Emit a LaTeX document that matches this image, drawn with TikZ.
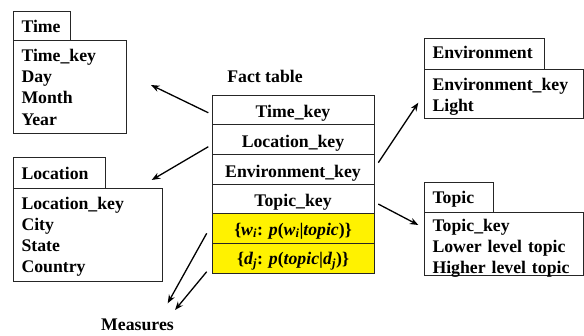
\documentclass[tikz,border=0pt]{standalone}
\usepackage{fontspec}
\setmainfont{Liberation Serif}
\usetikzlibrary{arrows.meta,positioning}

% stacked attribute lines, lowered by #1 without changing the box size
\newcommand\boxlines[2]{\raisebox{-#1}[\height][\depth]{%
  \begin{tabular}{@{}l@{}}#2\end{tabular}}}

\begin{document}
\begin{tikzpicture}[x=1bp,y=-1bp,
  font=\fontsize{17.8}{21.2}\selectfont\bfseries,
  box/.style={draw=black!85, line width=1bp, anchor=north west,
    inner xsep=8.5bp, inner ysep=0pt, align=left, outer sep=0pt},
  title/.style={box, text height=13bp, text depth=0bp},
  frow/.style={draw=black!85, line width=1bp, minimum width=162bp,
    minimum height=29.67bp, inner sep=0pt, outer sep=0pt, anchor=north,
    text height=20bp, text depth=4bp},
  measure/.style={frow, fill=yellow, text height=17.5bp},
  arr/.style={line width=1.3bp, -{Stealth[length=8.5bp,width=6.5bp]}}
]
\useasboundingbox (0,0) rectangle (584,335);

% Time dimension
\node[title, text width=40bp, minimum height=29bp] (timetitle) at (13,11) {Time};
\node[box, text width=96bp, minimum height=93bp] (timebody) at (13,40)
  {\boxlines{2.6bp}{Time\_key\\Day\\Month\\Year}};

% Location dimension
\node[title, text width=75bp, minimum height=31bp] (loctitle) at (13,157) {Location};
\node[box, text width=132bp, minimum height=93bp] (locbody) at (13,188)
  {\boxlines{2.1bp}{Location\_key\\City\\State\\Country}};

% Environment dimension
\node[title, text depth=3bp, text width=103bp, minimum height=31bp] (envtitle) at (424,38) {Environment};
\node[box, text width=142bp, minimum height=49bp] (envbody) at (424,69)
  {\boxlines{3.1bp}{Environment\_key\\Light}};

% Topic dimension
\node[title, text width=52bp, minimum height=30bp] (toptitle) at (424,182) {Topic};
\node[box, text width=142bp, minimum height=62bp] (topbody) at (424,212)
  {\boxlines{4.5bp}{Topic\_key\\Lower level topic\\Higher level topic}};

% Fact table
\node (factlabel) at (265,76) {Fact table};
\node[frow] (ft1) at (293,95) {Time\_key};
\node[frow, below=0pt of ft1] (ft2) {Location\_key};
\node[frow, below=0pt of ft2] (ft3) {Environment\_key};
\node[frow, below=0pt of ft3] (ft4) {Topic\_key};
\node[measure, below=0pt of ft4] (ft5)
  {\{\textit{w}\textsubscript{\textit{i}}: \textit{p}(\textit{w}\textsubscript{\textit{i}}|\textit{topic})\}};
\node[measure, below=0pt of ft5] (ft6)
  {\{\textit{d}\textsubscript{\textit{j}}: \textit{p}(\textit{topic}|\textit{d}\textsubscript{\textit{j}})\}};

\node[anchor=base] (measures) at (137.5,330.7) {Measures};

% arrow tips
\coordinate (timetip) at (151,85);
\coordinate (loctip) at (151.7,180);
\coordinate (envtip) at (418.3,102.7);
\coordinate (toptip) at (418.3,225);
\coordinate (meastipA) at (167.7,303.3);
\coordinate (meastipB) at (175,310);

\draw[arr] ([xshift=-3.7bp,yshift=-2.9bp]ft1.west) -- (timetip);
\draw[arr] ([xshift=-3.7bp,yshift=-7.2bp]ft2.west) -- (loctip);
\draw[arr] ([xshift=4.3bp,yshift=6.5bp]ft3.east) -- (envtip);
\draw[arr] ([xshift=4.3bp,yshift=-5.2bp]ft4.east) -- (toptip);
\draw[arr] ([xshift=-5.3bp,yshift=-4.8bp]ft5.west) -- (meastipA);
\draw[arr] ([xshift=-5.3bp,yshift=-13.5bp]ft6.west) -- (meastipB);
\end{tikzpicture}
\end{document}
